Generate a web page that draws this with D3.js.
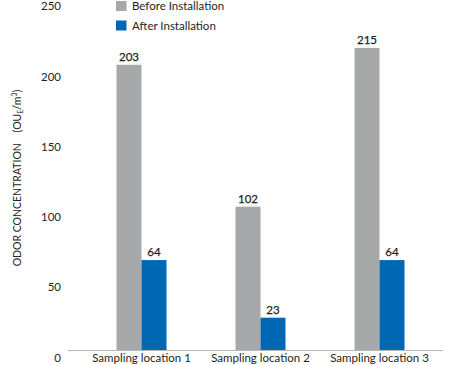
<!DOCTYPE html>
<html>
<head>
<meta charset="utf-8">
<script src="https://cdn.jsdelivr.net/npm/d3@7"></script>
<style>
  html, body { margin: 0; padding: 0; background: #fff; }
  svg { display: block; font-family: Lato, "Open Sans", sans-serif; }
</style>
</head>
<body>
<svg id="chart" width="449" height="365"></svg>
<script>
const categories = ["Sampling location 1", "Sampling location 2", "Sampling location 3"];
const seriesNames = ["Before Installation", "After Installation"];
const beforeValues = [203, 102, 215];
const afterValues = [64, 23, 64];
const yTicks = [0, 50, 100, 150, 200, 250];
const colors = ["#a7a8aa", "#0068b2"];

const svg = d3.select("#chart");
const textColor = "#231f20";

const x = d3.scaleBand().domain(categories).range([82, 439]).paddingInner(0.58).paddingOuter(0.29);
const xs = d3.scaleBand().domain(seriesNames).range([0, x.bandwidth()]);
const y = d3.scaleLinear().domain([0, 250]).range([350, -1.25]);

const series = [beforeValues, afterValues];

// bars
seriesNames.forEach((name, si) => {
  const g = svg.append("g");
  g.selectAll("rect").data(categories).join("rect")
    .attr("x", c => x(c) + xs(name))
    .attr("y", (c, i) => y(series[si][i]))
    .attr("width", xs.bandwidth())
    .attr("height", (c, i) => y(0) - y(series[si][i]))
    .attr("fill", colors[si]);
  g.selectAll("text").data(categories).join("text")
    .attr("x", c => x(c) + xs(name) + xs.bandwidth() / 2)
    .attr("y", (c, i) => y(series[si][i]) - 4)
    .attr("text-anchor", "middle")
    .attr("font-size", 11.5)
    .attr("fill", textColor)
    .attr("stroke", textColor)
    .attr("stroke-width", 0.25)
    .text((c, i) => series[si][i]);
});

// x axis
const xAxis = svg.append("g").attr("transform", `translate(0,${y(0)})`)
  .call(d3.axisBottom(x).tickSize(0).tickPadding(4));
xAxis.select(".domain").attr("d", "M68,0.5H443").attr("stroke", "#b5b6b8");
xAxis.selectAll("text").attr("font-size", 11.5).attr("fill", textColor)
  .attr("font-family", "Lato, sans-serif");

// y axis labels
const yAxis = svg.append("g").attr("transform", "translate(61,0)")
  .call(d3.axisLeft(y).tickValues(yTicks).tickSize(0).tickPadding(0));
yAxis.select(".domain").remove();
yAxis.selectAll("text").attr("font-size", 11.5).attr("fill", textColor)
  .attr("font-family", "Lato, sans-serif")
  .attr("transform", "translate(0,7.5)");

// y title
const title = svg.append("text")
  .attr("transform", "translate(21,178) rotate(-90)")
  .attr("text-anchor", "middle")
  .attr("font-size", 10.5)
  .attr("fill", textColor)
  .attr("xml:space", "preserve");
title.append("tspan").text("ODOR CONCENTRATION    (OU");
title.append("tspan").attr("font-size", 7).attr("dy", 2).text("E");
title.append("tspan").attr("dy", -2).text("/m");
title.append("tspan").attr("font-size", 7).attr("dy", -4).text("3");
title.append("tspan").attr("dy", 4).text(")");

// legend
const legend = svg.append("g").selectAll("g").data(seriesNames).join("g")
  .attr("transform", (d, i) => `translate(116,${1 + i * 19.5})`);
legend.append("rect").attr("width", 10.5).attr("height", 10).attr("fill", (d, i) => colors[i]);
legend.append("text").attr("x", 16).attr("y", 5).attr("dy", "0.35em")
  .attr("font-size", 11.5).attr("fill", textColor).text(d => d);
</script>
</body>
</html>
